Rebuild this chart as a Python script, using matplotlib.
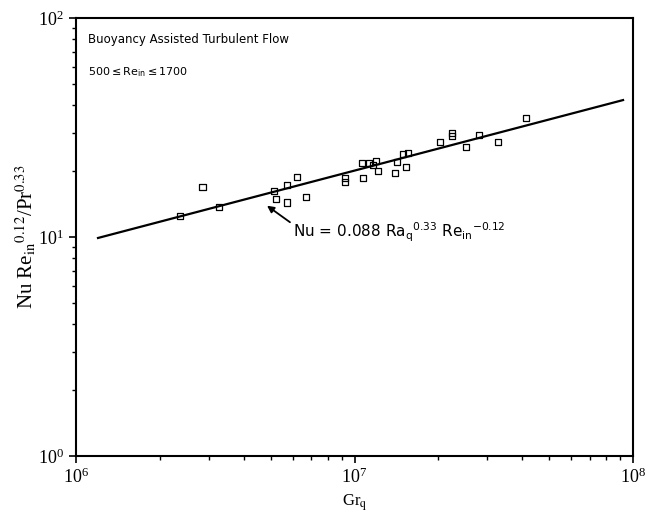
import matplotlib
matplotlib.use("Agg")
import matplotlib.pyplot as plt

# measured data points (Gr_q, Nu Re_in^0.12 / Pr^0.33)
gr_q = [2.36e6, 2.84e6, 3.26e6, 5.14e6, 5.23e6, 5.72e6, 5.72e6, 6.22e6, 6.70e6,
        9.25e6, 9.25e6, 1.073e7, 1.064e7, 1.128e7, 1.195e7, 1.165e7, 1.215e7,
        1.398e7, 1.421e7, 1.531e7, 1.493e7, 1.556e7, 2.03e7, 2.24e7, 2.24e7,
        2.51e7, 2.80e7, 3.27e7, 4.13e7]
nu_corr = [12.5, 16.9, 13.7, 16.2, 14.9, 14.4, 17.3, 18.8, 15.2,
           18.6, 17.8, 18.6, 21.8, 21.8, 22.2, 21.3, 20.0,
           19.6, 22.0, 20.9, 23.9, 24.2, 27.2, 29.8, 28.9,
           25.8, 29.2, 27.2, 34.9]

# correlation line end points
fit_gr = [1.2e6, 9.2e7]
fit_nu = [9.9, 42.2]

plt.rcParams['font.family'] = 'serif'
plt.rcParams['font.serif'] = ['Liberation Serif', 'DejaVu Serif']
plt.rcParams['mathtext.fontset'] = 'stix'


def main():
    fig = plt.figure(figsize=(6.46, 5.22), dpi=100)
    ax = fig.add_axes([0.1176, 0.1264, 0.8625, 0.8391])

    ax.plot(fit_gr, fit_nu, color='black', lw=1.6)
    ax.scatter(gr_q, nu_corr, marker='s', s=22, facecolors='none',
               edgecolors='black', linewidths=0.9, zorder=3)

    ax.set_xscale('log')
    ax.set_yscale('log')
    ax.set_xlim(1e6, 1e8)
    ax.set_ylim(1e0, 1e2)

    for sp in ax.spines.values():
        sp.set_linewidth(1.5)
    ax.tick_params(which='major', direction='out', length=5, width=1.2,
                   labelsize=13)
    ax.tick_params(which='minor', direction='out', length=3, width=1.0)

    ax.set_xlabel(r'Gr$_\mathrm{q}$', fontsize=12, labelpad=4)
    ax.set_ylabel(r'Nu Re$_\mathrm{in}$$^{\mathrm{0.12}}$/Pr$^{\mathrm{0.33}}$',
                  fontsize=15, labelpad=0)

    sans = dict(family='DejaVu Sans', math_fontfamily='dejavusans',
                transform=ax.transAxes, ha='left', va='center')
    ax.text(0.022, 0.95, 'Buoyancy Assisted Turbulent Flow',
            fontsize=8.5, **sans)
    ax.text(0.022, 0.877, r'500$\leq$Re$_{\mathrm{in}}$$\leq$1700',
            fontsize=8, **sans)

    ax.annotate(r'Nu = 0.088 Ra$_\mathrm{q}$$^{\mathrm{0.33}}$ Re$_{\mathrm{in}}$$^{\mathrm{-0.12}}$',
                xy=(4.85e6, 13.9), xytext=(6.0e6, 10.5),
                fontsize=11, family='DejaVu Sans', math_fontfamily='dejavusans',
                va='center', ha='left',
                arrowprops=dict(arrowstyle='-|>', color='black', lw=1.3,
                                shrinkA=0, shrinkB=0, mutation_scale=10,
                                relpos=(0.0, 0.85)))

    fig.savefig('out.png', dpi=100)


if __name__ == "__main__":
    main()
